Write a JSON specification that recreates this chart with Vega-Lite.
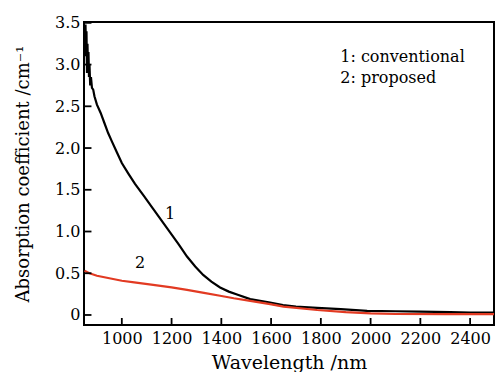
{
  "$schema": "https://vega.github.io/schema/vega-lite/v6.json",
  "width": 410,
  "height": 303,
  "autosize": {"type": "none"},
  "padding": {"left": 84, "top": 22, "right": 4, "bottom": 47},
  "config": {
    "view": {"stroke": "black", "strokeWidth": 2},
    "font": "DejaVu Serif",
    "axis": {"grid": false, "domain": false, "ticks": false, "labelColor": "black", "titleColor": "black", "labelFont": "DejaVu Serif", "titleFont": "DejaVu Serif", "labelFontSize": 16, "titleFontWeight": "normal"}
  },
  "datasets": {
    "curves": [
      {"series": "1", "wl": 850, "a": 3.45}, {"series": "1", "wl": 852, "a": 3.1}, {"series": "1", "wl": 854, "a": 3.48}, {"series": "1", "wl": 856, "a": 3.2}, {"series": "1", "wl": 858, "a": 3.4}, {"series": "1", "wl": 860, "a": 2.9}, {"series": "1", "wl": 862, "a": 3.25}, {"series": "1", "wl": 864, "a": 2.95}, {"series": "1", "wl": 866, "a": 3.15}, {"series": "1", "wl": 868, "a": 2.85}, {"series": "1", "wl": 870, "a": 3.0}, {"series": "1", "wl": 873, "a": 2.75}, {"series": "1", "wl": 876, "a": 2.85}, {"series": "1", "wl": 880, "a": 2.72}, {"series": "1", "wl": 885, "a": 2.7}, {"series": "1", "wl": 890, "a": 2.62}, {"series": "1", "wl": 900, "a": 2.52}, {"series": "1", "wl": 915, "a": 2.42}, {"series": "1", "wl": 930, "a": 2.3}, {"series": "1", "wl": 945, "a": 2.18}, {"series": "1", "wl": 960, "a": 2.08}, {"series": "1", "wl": 980, "a": 1.95}, {"series": "1", "wl": 1000, "a": 1.82}, {"series": "1", "wl": 1025, "a": 1.7}, {"series": "1", "wl": 1053, "a": 1.57}, {"series": "1", "wl": 1090, "a": 1.42}, {"series": "1", "wl": 1126, "a": 1.27}, {"series": "1", "wl": 1160, "a": 1.13}, {"series": "1", "wl": 1194, "a": 0.99}, {"series": "1", "wl": 1230, "a": 0.84}, {"series": "1", "wl": 1262, "a": 0.7}, {"series": "1", "wl": 1295, "a": 0.58}, {"series": "1", "wl": 1327, "a": 0.48}, {"series": "1", "wl": 1360, "a": 0.4}, {"series": "1", "wl": 1395, "a": 0.33}, {"series": "1", "wl": 1430, "a": 0.28}, {"series": "1", "wl": 1463, "a": 0.245}, {"series": "1", "wl": 1516, "a": 0.19}, {"series": "1", "wl": 1596, "a": 0.15}, {"series": "1", "wl": 1648, "a": 0.12}, {"series": "1", "wl": 1700, "a": 0.1}, {"series": "1", "wl": 1785, "a": 0.085}, {"series": "1", "wl": 1880, "a": 0.07}, {"series": "1", "wl": 1986, "a": 0.05}, {"series": "1", "wl": 2100, "a": 0.045}, {"series": "1", "wl": 2200, "a": 0.04}, {"series": "1", "wl": 2320, "a": 0.035}, {"series": "1", "wl": 2400, "a": 0.03}, {"series": "1", "wl": 2496, "a": 0.03},
      {"series": "2", "wl": 850, "a": 0.53}, {"series": "2", "wl": 870, "a": 0.5}, {"series": "2", "wl": 900, "a": 0.47}, {"series": "2", "wl": 950, "a": 0.44}, {"series": "2", "wl": 1000, "a": 0.41}, {"series": "2", "wl": 1050, "a": 0.39}, {"series": "2", "wl": 1126, "a": 0.36}, {"series": "2", "wl": 1200, "a": 0.33}, {"series": "2", "wl": 1262, "a": 0.3}, {"series": "2", "wl": 1330, "a": 0.265}, {"series": "2", "wl": 1395, "a": 0.23}, {"series": "2", "wl": 1450, "a": 0.2}, {"series": "2", "wl": 1516, "a": 0.17}, {"series": "2", "wl": 1596, "a": 0.13}, {"series": "2", "wl": 1650, "a": 0.1}, {"series": "2", "wl": 1785, "a": 0.06}, {"series": "2", "wl": 1900, "a": 0.035}, {"series": "2", "wl": 2000, "a": 0.02}, {"series": "2", "wl": 2100, "a": 0.012}, {"series": "2", "wl": 2300, "a": 0.01}, {"series": "2", "wl": 2496, "a": 0.01}
    ],
    "xticks": [{"wl": 1000}, {"wl": 1200}, {"wl": 1400}, {"wl": 1600}, {"wl": 1800}, {"wl": 2000}, {"wl": 2200}, {"wl": 2400}],
    "yticks": [{"a": 0}, {"a": 0.5}, {"a": 1}, {"a": 1.5}, {"a": 2}, {"a": 2.5}, {"a": 3}, {"a": 3.5}],
    "curvelabels": [
      {"wl": 1194, "a": 1.21, "t": "1"},
      {"wl": 1073, "a": 0.62, "t": "2"}
    ],
    "legendtext": [
      {"wl": 1878, "a": 3.09, "t": "1: conventional"},
      {"wl": 1878, "a": 2.84, "t": "2: proposed"}
    ]
  },
  "layer": [
    {
      "data": {"name": "curves"},
      "mark": {"type": "line", "strokeWidth": 2.2, "clip": true},
      "encoding": {
        "x": {"field": "wl", "type": "quantitative", "scale": {"domain": [848, 2496], "nice": false, "zero": false},
              "axis": {"values": [1000, 1200, 1400, 1600, 1800, 2000, 2200, 2400], "format": "d", "title": "Wavelength /nm", "titleFontSize": 19, "labelPadding": 5, "titlePadding": 7}},
        "y": {"field": "a", "type": "quantitative", "scale": {"domain": [-0.12, 3.51], "nice": false, "zero": false},
              "axis": {"values": [0, 0.5, 1, 1.5, 2, 2.5, 3, 3.5], "labelExpr": "datum.value == 0 ? '0' : format(datum.value, '.1f')", "title": "Absorption coefficient /cm⁻¹", "titleFontSize": 18, "labelPadding": 4, "titlePadding": 22}},
        "color": {"field": "series", "type": "nominal", "scale": {"domain": ["1", "2"], "range": ["black", "#e23a22"]}, "legend": null}
      }
    },
    {
      "data": {"name": "xticks"},
      "mark": {"type": "rule", "color": "black", "strokeWidth": 1.8},
      "encoding": {
        "x": {"field": "wl", "type": "quantitative"},
        "y": {"datum": -0.12},
        "y2": {"datum": -0.036}
      }
    },
    {
      "data": {"name": "yticks"},
      "mark": {"type": "rule", "color": "black", "strokeWidth": 1.8},
      "encoding": {
        "y": {"field": "a", "type": "quantitative"},
        "x": {"datum": 848},
        "x2": {"datum": 878}
      }
    },
    {
      "data": {"name": "curvelabels"},
      "mark": {"type": "text", "font": "DejaVu Serif", "fontSize": 16, "color": "black", "baseline": "middle", "align": "center"},
      "encoding": {
        "x": {"field": "wl", "type": "quantitative"},
        "y": {"field": "a", "type": "quantitative"},
        "text": {"field": "t"}
      }
    },
    {
      "data": {"name": "legendtext"},
      "mark": {"type": "text", "font": "DejaVu Serif", "fontSize": 16, "color": "black", "baseline": "middle", "align": "left"},
      "encoding": {
        "x": {"field": "wl", "type": "quantitative"},
        "y": {"field": "a", "type": "quantitative"},
        "text": {"field": "t"}
      }
    }
  ]
}
